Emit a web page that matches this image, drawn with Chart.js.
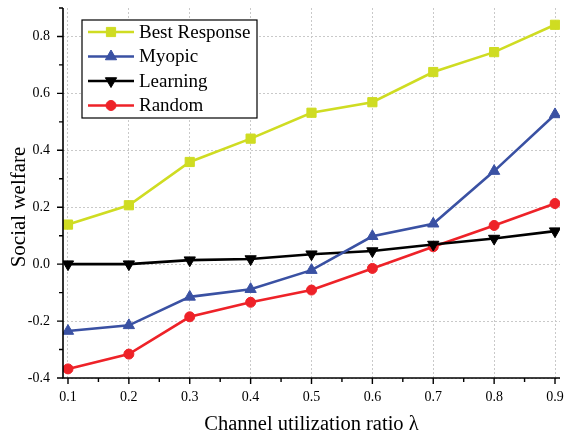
<!DOCTYPE html>
<html>
<head>
<meta charset="utf-8">
<script src="https://cdn.jsdelivr.net/npm/chart.js@4/dist/chart.umd.min.js"></script>
<style>
  html, body { margin: 0; padding: 0; background: #ffffff; }
  #wrap { width: 571px; height: 437px; }
</style>
</head>
<body>
<div id="wrap"><canvas id="c" width="571" height="437"></canvas></div>
<script>
// Channel utilization ratio (x) values
const ratios = [0.1, 0.2, 0.3, 0.4, 0.5, 0.6, 0.7, 0.8, 0.9];

// Social welfare per strategy
const bestResponse = [0.139, 0.207, 0.359, 0.441, 0.532, 0.569, 0.675, 0.745, 0.841];
const myopic       = [-0.235, -0.215, -0.115, -0.088, -0.021, 0.098, 0.142, 0.327, 0.526];
const learning     = [0.000, 0.000, 0.014, 0.018, 0.035, 0.046, 0.069, 0.090, 0.116];
const random       = [-0.368, -0.316, -0.185, -0.134, -0.091, -0.015, 0.061, 0.136, 0.213];

// Labelled tick values
const xTickLabels = [0.1, 0.2, 0.3, 0.4, 0.5, 0.6, 0.7, 0.8, 0.9];
const yTickLabels = [-0.4, -0.2, 0.0, 0.2, 0.4, 0.6, 0.8];

const Y_TITLE = 'Social welfare';
const SERIF = '"Liberation Serif", "Times New Roman", serif';

function pts(ys) { return ratios.map((x, i) => ({ x: x, y: ys[i] })); }

// major ticks plus half-step minor ticks
function withMinor(majors, extraEnd) {
  const out = [];
  const step = majors[1] - majors[0];
  majors.forEach((v, i) => {
    out.push({ value: +v.toFixed(3), major: true });
    if (i < majors.length - 1 || extraEnd) out.push({ value: +(v + step / 2).toFixed(3), major: false });
  });
  return out;
}
const xTicksAll = withMinor(xTickLabels, false);
const yTicksAll = withMinor(yTickLabels, true);
const isMajor = (list, v) => list.some(t => Math.abs(t - v) < 1e-6);

function series(label, data, color, style, radius, rotation) {
  return {
    label: label, data: pts(data),
    borderColor: color, backgroundColor: color,
    borderWidth: 2.6,
    pointStyle: style, pointRadius: radius, pointHoverRadius: radius,
    pointRotation: rotation || 0,
    pointBackgroundColor: color, pointBorderColor: color, pointBorderWidth: 1,
    tension: 0, fill: false
  };
}

// axes with outward tick marks, plus the vertical axis title
const axesPlugin = {
  id: 'axes',
  afterDatasetsDraw(chart) {
    const { ctx, chartArea: a, scales: { x, y } } = chart;
    ctx.save();
    ctx.strokeStyle = '#000';
    ctx.lineWidth = 1.6;
    ctx.beginPath();
    ctx.moveTo(a.left, a.top);
    ctx.lineTo(a.left, a.bottom);
    ctx.lineTo(a.right, a.bottom);
    ctx.stroke();
    ctx.lineWidth = 1.4;
    ctx.beginPath();
    xTicksAll.forEach(t => {
      const px = x.getPixelForValue(t.value);
      ctx.moveTo(px, a.bottom);
      ctx.lineTo(px, a.bottom + (t.major ? 6 : 4));
    });
    yTicksAll.forEach(t => {
      const py = y.getPixelForValue(t.value);
      ctx.moveTo(a.left, py);
      ctx.lineTo(a.left - (t.major ? 6 : 4), py);
    });
    ctx.stroke();

    // y title, sitting a little below the middle of the axis
    ctx.translate(19, (a.top + a.bottom) / 2 + 14);
    ctx.rotate(-Math.PI / 2);
    ctx.fillStyle = '#000';
    ctx.font = '21px ' + SERIF;
    ctx.textAlign = 'center';
    ctx.textBaseline = 'middle';
    ctx.fillText(Y_TITLE, 0, 0);
    ctx.restore();
  }
};

// boxed legend inside the plot area
const legendPlugin = {
  id: 'boxLegend',
  afterDraw(chart) {
    const { ctx, chartArea: a } = chart;
    const left = a.left + 19, top = a.top + 12, w = 175, h = 98;
    ctx.save();
    ctx.fillStyle = '#fff';
    ctx.fillRect(left, top, w, h);
    ctx.strokeStyle = '#000';
    ctx.lineWidth = 1.2;
    ctx.strokeRect(left, top, w, h);
    ctx.font = '19px ' + SERIF;
    ctx.textBaseline = 'middle';
    ctx.textAlign = 'left';
    chart.data.datasets.forEach((ds, i) => {
      const cy = top + 12 + i * 24.5;
      ctx.strokeStyle = ds.borderColor;
      ctx.lineWidth = ds.borderWidth;
      ctx.beginPath();
      ctx.moveTo(left + 6, cy);
      ctx.lineTo(left + 52, cy);
      ctx.stroke();
      ctx.fillStyle = ds.borderColor;
      ctx.lineWidth = 1;
      Chart.helpers.drawPoint(ctx, {
        pointStyle: ds.pointStyle, rotation: ds.pointRotation,
        radius: ds.pointRadius, borderWidth: 1
      }, left + 29, cy);
      ctx.fillStyle = '#000';
      ctx.fillText(ds.label, left + 57, cy + 1);
    });
    ctx.restore();
  }
};

new Chart(document.getElementById('c'), {
  type: 'line',
  data: {
    datasets: [
      series('Best Response', bestResponse, '#cfdc22', 'rect', 6.5),
      series('Myopic', myopic, '#3a51a3', 'triangle', 6.5),
      series('Learning', learning, '#000000', 'triangle', 6.5, 180),
      series('Random', random, '#ee2228', 'circle', 5)
    ]
  },
  options: {
    responsive: false,
    animation: false,
    events: [],
    layout: { padding: { top: 8, right: 11, bottom: 0, left: 0 } },
    plugins: { legend: { display: false }, tooltip: { enabled: false } },
    scales: {
      x: {
        type: 'linear',
        min: 0.0918, max: 0.9082,
        afterBuildTicks: s => { s.ticks = xTicksAll.map(t => ({ value: t.value })); },
        afterFit: s => { s.height = 59; s.paddingLeft = 0; s.paddingRight = 0; },
        grid: {
          drawTicks: false,
          lineWidth: 1,
          color: c => (c.tick && isMajor(xTickLabels, c.tick.value)) ? '#c9c9c9' : 'rgba(0,0,0,0)'
        },
        border: { display: false, dash: [2, 2] },
        ticks: {
          autoSkip: false, maxRotation: 0, padding: 11,
          color: '#000',
          font: { family: SERIF, size: 14 },
          callback: v => isMajor(xTickLabels, v) ? v.toFixed(1) : ''
        },
        title: {
          display: true, text: 'Channel utilization ratio λ',
          color: '#000', font: { family: SERIF, size: 20.5 },
          padding: { top: 0, bottom: 0 }
        }
      },
      y: {
        type: 'linear',
        min: -0.4, max: 0.9,
        afterBuildTicks: s => { s.ticks = yTicksAll.map(t => ({ value: t.value })); },
        afterFit: s => { s.width = 63; s.paddingTop = 0; s.paddingBottom = 0; },
        grid: {
          drawTicks: false,
          lineWidth: 1,
          color: c => (c.tick && isMajor(yTickLabels, c.tick.value)) ? '#c9c9c9' : 'rgba(0,0,0,0)'
        },
        border: { display: false, dash: [2, 2] },
        ticks: {
          autoSkip: false, padding: 13,
          color: '#000',
          font: { family: SERIF, size: 14 },
          callback: v => isMajor(yTickLabels, v) ? v.toFixed(1) : ''
        },
        title: { display: false }
      }
    }
  },
  plugins: [axesPlugin, legendPlugin]
});
</script>
</body>
</html>
